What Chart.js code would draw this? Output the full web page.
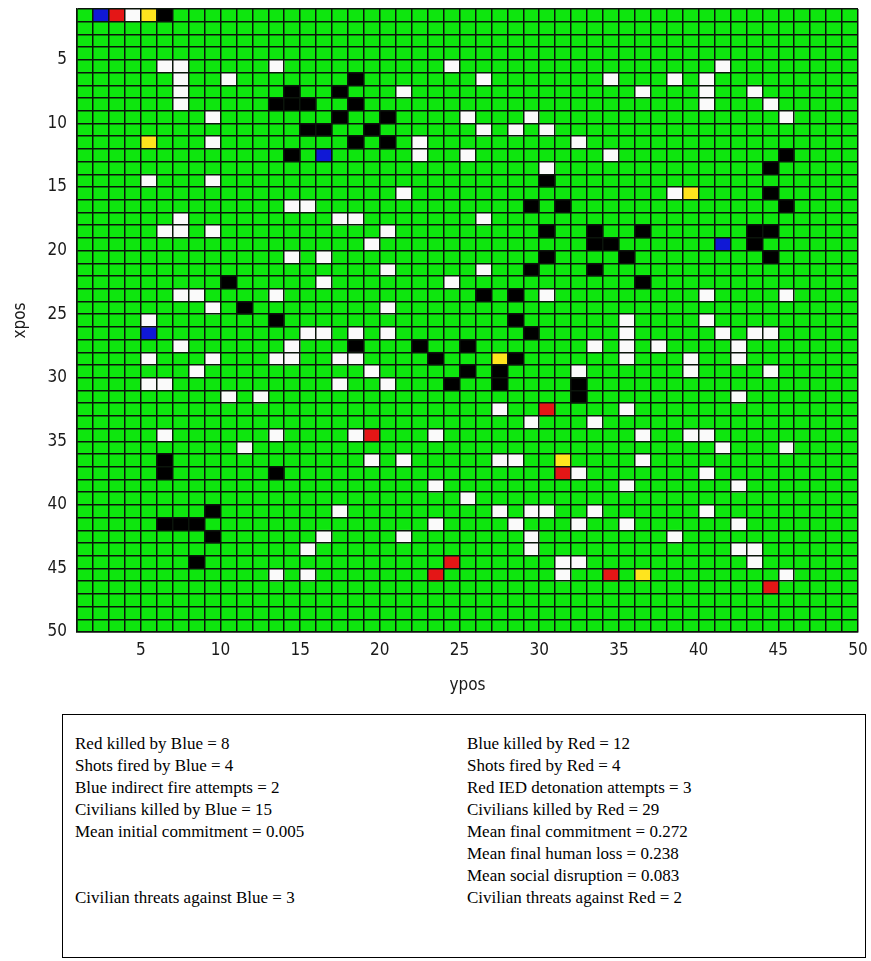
<!DOCTYPE html>
<html>
<head>
<meta charset="utf-8">
<script src="https://cdn.jsdelivr.net/npm/chart.js@4/dist/chart.umd.min.js"></script>
<style>
html, body { margin: 0; padding: 0; background: #ffffff; }
#wrap { position: relative; width: 871px; height: 961px; overflow: hidden; background: #fff; }
#chartBox { position: absolute; left: 0; top: 0; width: 871px; height: 700px; }
#stats { position: absolute; left: 62px; top: 714px; width: 804px; height: 244px; box-sizing: border-box;
         border: 1.5px solid #000; font-family: "Liberation Serif", "Times New Roman", serif; font-size: 17px; color: #000; }
.col { position: absolute; top: 18px; line-height: 22px; white-space: pre; }
</style>
</head>
<body>
<div id="wrap">
  <div id="chartBox"><canvas id="c" width="871" height="700"></canvas></div>
  <div id="stats"><div class="col" id="leftCol" style="left:12px"></div><div class="col" id="rightCol" style="left:404px"></div></div>
</div>
<script>
// ---- data: cells as [ypos, xpos] (lower corner of each pcolor cell) ----
const blueCells = [[2,1],[16,12],[41,19],[5,26]];
const redCells = [[3,1],[30,32],[19,34],[31,37],[24,44],[23,45],[34,45],[44,46]];
const yellowCells = [[5,1],[5,11],[39,15],[27,28],[31,36],[36,45]];
const blackCells = [
  [6,1],[18,6],[14,7],[17,7],[13,8],[14,8],[15,8],[18,8],[17,9],[20,9],
  [15,10],[16,10],[19,10],[18,11],[20,11],[14,12],[45,12],[44,13],[30,14],[44,15],
  [29,16],[31,16],[45,16],[30,18],[33,18],[36,18],[43,18],[44,18],[33,19],[34,19],[43,19],
  [30,20],[35,20],[44,20],[29,21],[33,21],[10,22],[36,22],[26,23],[28,23],[11,24],
  [13,25],[28,25],[29,26],[18,27],[22,27],[25,27],[23,28],[28,28],[25,29],[27,29],
  [24,30],[27,30],[32,30],[32,31],[6,36],[6,37],[13,37],[9,40],[6,41],[7,41],[8,41],[9,42],[8,44]
];
const whiteCells = [
  [4,1],
  [6,5],[7,5],[13,5],[24,5],[41,5],
  [7,6],[10,6],[26,6],[34,6],[38,6],[40,6],
  [7,7],[21,7],[36,7],[40,7],[43,7],
  [7,8],[40,8],[44,8],
  [9,9],[25,9],[29,9],[45,9],
  [26,10],[28,10],[30,10],
  [9,11],[22,11],[32,11],
  [22,12],[25,12],[34,12],
  [30,13],
  [5,14],[9,14],
  [21,15],[38,15],
  [14,16],[15,16],
  [7,17],[17,17],[18,17],[26,17],
  [6,18],[7,18],[9,18],[20,18],
  [19,19],
  [14,20],[16,20],
  [20,21],[26,21],
  [16,22],[24,22],
  [7,23],[8,23],[13,23],[30,23],[40,23],[45,23],
  [9,24],[20,24],
  [5,25],[35,25],[40,25],
  [15,26],[16,26],[18,26],[20,26],[35,26],[41,26],[43,26],[44,26],
  [7,27],[14,27],[33,27],[35,27],[37,27],[42,27],
  [5,28],[9,28],[13,28],[14,28],[17,28],[18,28],[35,28],[39,28],[42,28],
  [8,29],[19,29],[32,29],[39,29],[44,29],
  [5,30],[6,30],[17,30],[20,30],
  [10,31],[12,31],[42,31],
  [27,32],[35,32],
  [29,33],[33,33],
  [6,34],[13,34],[18,34],[23,34],[36,34],[39,34],[40,34],
  [11,35],[41,35],[45,35],
  [19,36],[21,36],[27,36],[28,36],[36,36],
  [32,37],[40,37],
  [23,38],[35,38],[42,38],
  [25,39],
  [17,40],[27,40],[29,40],[30,40],[33,40],[40,40],
  [23,41],[28,41],[32,41],[35,41],[42,41],
  [16,42],[21,42],[29,42],[38,42],
  [15,43],[29,43],[42,43],[43,43],
  [31,44],[32,44],[43,44],
  [13,45],[15,45],[31,45],[45,45]
];
const tickValues = [5,10,15,20,25,30,35,40,45,50];
const axisMin = 1, axisMax = 50;
const xTitle = 'ypos', yTitle = 'xpos';
const statsLeft = [
  'Red killed by Blue = 8',
  'Shots fired by Blue = 4',
  'Blue indirect fire attempts = 2',
  'Civilians killed by Blue = 15',
  'Mean initial commitment = 0.005',
  '',
  '',
  'Civilian threats against Blue = 3'
];
const statsRight = [
  'Blue killed by Red = 12',
  'Shots fired by Red = 4',
  'Red IED detonation attempts = 3',
  'Civilians killed by Red = 29',
  'Mean final commitment = 0.272',
  'Mean final human loss = 0.238',
  'Mean social disruption = 0.083',
  'Civilian threats against Red = 2'
];

// ---- styles ----
const fieldColor = 'rgb(14,230,14)';
const lineColor = '#0b140b';
const tickFont = { family: '"Liberation Sans Narrow", "DejaVu Sans Condensed", "Liberation Sans", sans-serif', size: 17 };
const textColor = '#1a1a1a';

document.getElementById('leftCol').textContent = statsLeft.join('\n');
document.getElementById('rightCol').textContent = statsRight.join('\n');

function cellData(list) {
  return list.map(([c, r]) => ({ x: c + 0.5, y: [r, r + 1] }));
}
function cellSet(label, list, color) {
  return {
    label, data: cellData(list), backgroundColor: color, borderWidth: 0,
    barPercentage: 1, categoryPercentage: 1, grouped: false
  };
}

const gridBackground = {
  id: 'gridBackground',
  beforeDatasetsDraw(chart) {
    const { ctx, chartArea: a } = chart;
    ctx.save();
    ctx.fillStyle = fieldColor;
    ctx.fillRect(a.left, a.top, a.right - a.left, a.bottom - a.top);
    ctx.restore();
  }
};

const tickCb = (v) => tickValues.includes(v) ? String(v) : '';

new Chart(document.getElementById('c'), {
  type: 'bar',
  data: {
    datasets: [
      cellSet('white', whiteCells, 'rgb(250,250,250)'),
      cellSet('black', blackCells, 'rgb(0,0,0)'),
      cellSet('blue', blueCells, 'rgb(16,24,214)'),
      cellSet('red', redCells, 'rgb(228,22,22)'),
      cellSet('yellow', yellowCells, 'rgb(255,228,30)')
    ]
  },
  options: {
    responsive: false,
    animation: false,
    devicePixelRatio: 1,
    layout: { padding: 0 },
    plugins: { legend: { display: false }, tooltip: { enabled: false } },
    scales: {
      x: {
        type: 'linear', min: axisMin, max: axisMax, offset: false,
        grid: { offset: false, color: lineColor, lineWidth: 1.5, drawTicks: false, z: 1 },
        border: { display: true, color: lineColor, width: 1.5, z: 1 },
        ticks: { stepSize: 1, autoSkip: false, maxRotation: 0, padding: 8, color: textColor, font: tickFont, callback: tickCb },
        title: { display: true, text: xTitle, color: textColor, font: tickFont, padding: { top: 4, bottom: 4 } },
        afterFit: (s) => { s.height = 68; s.paddingLeft = 0; s.paddingRight = 13; }
      },
      y: {
        type: 'linear', min: axisMin, max: axisMax, reverse: true,
        grid: { color: lineColor, lineWidth: 1.5, drawTicks: false, z: 1 },
        border: { display: true, color: lineColor, width: 1.5, z: 1 },
        ticks: { stepSize: 1, autoSkip: false, padding: 10, color: textColor, font: tickFont, callback: tickCb },
        title: { display: true, text: yTitle, color: textColor, font: tickFont, padding: { top: 10, bottom: 0 } },
        afterFit: (s) => { s.width = 77; s.paddingTop = 9; s.paddingBottom = 0; }
      }
    }
  },
  plugins: [gridBackground]
});
</script>
</body>
</html>
